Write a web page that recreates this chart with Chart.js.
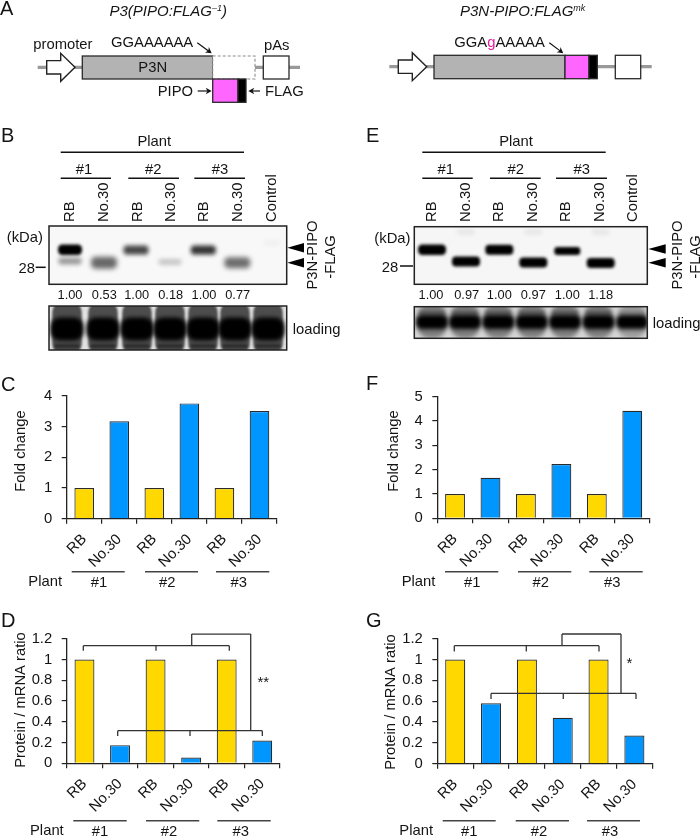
<!DOCTYPE html>
<html><head><meta charset="utf-8">
<script src="https://cdn.jsdelivr.net/npm/chart.js@4/dist/chart.umd.min.js"></script>
<style>
html,body{margin:0;padding:0;background:#fff;width:700px;height:837px;overflow:hidden}
canvas{position:absolute}
</style></head><body>
<canvas id="page" width="700" height="837" style="left:0;top:0"></canvas>
<canvas id="chartC" width="350" height="230" style="left:0;top:370px"></canvas>
<canvas id="chartF" width="350" height="230" style="left:350px;top:370px"></canvas>
<canvas id="chartD" width="350" height="237" style="left:0;top:600px"></canvas>
<canvas id="chartG" width="350" height="237" style="left:350px;top:600px"></canvas>
<script>
// ---------- data ----------
const categories = ['RB','No.30','RB','No.30','RB','No.30'];
const foldChangeC = [1,3.17,1,3.75,1,3.5];
const foldChangeF = [1,1.67,1,2.23,1,4.42];
const ratioD = [1,0.175,1,0.055,1,0.22];
const ratioG = [1,0.58,1,0.44,1,0.27];
const ticksC = ['0','1','2','3','4'];
const ticksF = ['0','1','2','3','4','5'];
const ticksRatio = ['0','0.2','0.4','0.6','0.8','1','1.2'];
const plants = ['#1','#2','#3'];
const blotLanes = ['RB','No.30','RB','No.30','RB','No.30','Control'];
const densityB = ['1.00','0.53','1.00','0.18','1.00','0.77'];
const densityE = ['1.00','0.97','1.00','0.97','1.00','1.18'];

const FONT = '"Liberation Sans", Arial, sans-serif';
const SIZE = 14.8, INK = '#141414', YELLOW = '#ffd800', BLUE = '#0096ff';
const barColors = categories.map(c => c === 'RB' ? YELLOW : BLUE);

// ---------- page drawing helpers ----------
function T(c, s, x, y, o = {}) {
  c.save();
  c.font = `${o.style || ''} ${o.size || SIZE}px ${FONT}`;
  c.fillStyle = o.color || INK;
  c.textAlign = o.align || 'left';
  c.textBaseline = 'middle';
  c.translate(x, y);
  if (o.rot) c.rotate(o.rot);
  c.fillText(s, 0, 0);
  c.restore();
}
function L(c, x1, y1, x2, y2, w = 1.4, col = '#222') {
  c.save(); c.strokeStyle = col; c.lineWidth = w; c.beginPath(); c.moveTo(x1, y1); c.lineTo(x2, y2); c.stroke(); c.restore();
}
function box(c, x1, y1, x2, y2, fill, stroke = '#2a2a2a', w = 1.3, dash) {
  c.save();
  if (fill) { c.fillStyle = fill; c.fillRect(x1, y1, x2 - x1, y2 - y1); }
  if (stroke) { c.strokeStyle = stroke; c.lineWidth = w; if (dash) c.setLineDash(dash); c.strokeRect(x1, y1, x2 - x1, y2 - y1); }
  c.restore();
}
function arrow(c, x1, y1, x2, y2, size = 6) {
  const a = Math.atan2(y2 - y1, x2 - x1);
  L(c, x1, y1, x2 - Math.cos(a) * size * .6, y2 - Math.sin(a) * size * .6, 1.2, '#111');
  c.save(); c.fillStyle = '#111'; c.translate(x2, y2); c.rotate(a);
  c.beginPath(); c.moveTo(0, 0); c.lineTo(-size, -size * .55); c.lineTo(-size * .7, 0); c.lineTo(-size, size * .55); c.closePath(); c.fill();
  c.restore();
}
function blockArrow(c, x1, xn, xt, yc) {
  c.save(); c.fillStyle = '#fff'; c.strokeStyle = '#222'; c.lineWidth = 1.4; c.beginPath();
  c.moveTo(x1, yc - 6.7); c.lineTo(xn, yc - 6.7); c.lineTo(xn, yc - 14); c.lineTo(xt, yc); c.lineTo(xn, yc + 14);
  c.lineTo(xn, yc + 6.7); c.lineTo(x1, yc + 6.7); c.closePath(); c.fill(); c.stroke(); c.restore();
}
function tri(c, tip, base, y) {
  c.save(); c.fillStyle = '#000'; c.beginPath(); c.moveTo(tip, y); c.lineTo(base, y - 4.8); c.lineTo(base, y + 4.8); c.closePath(); c.fill(); c.restore();
}
function band(c, cx, cy, w, h, alpha, blur = 2) {
  c.save(); c.filter = `blur(${blur}px)`; c.fillStyle = `rgba(0,0,0,${alpha})`;
  c.beginPath(); c.roundRect(cx - w / 2, cy - h / 2, w, h, Math.min(w, h) / 2.5); c.fill(); c.restore();
}
function clipped(c, x1, y1, x2, y2, f) {
  c.save(); c.beginPath(); c.rect(x1, y1, x2 - x1, y2 - y1); c.clip(); f(); c.restore();
}

function drawSchematics(c) {
  // left construct
  T(c, 'A', 0, 9, { size: 20 });
  c.save(); c.font = `italic 15px ${FONT}`; c.fillStyle = INK; c.textBaseline = 'middle';
  let x = 109.5; c.fillText('P3(PIPO:FLAG', x, 12); x += c.measureText('P3(PIPO:FLAG').width;
  c.font = `italic 9px ${FONT}`; c.fillText('–1', x, 8); x += c.measureText('–1').width;
  c.font = `italic 15px ${FONT}`; c.fillText(')', x, 12);
  x = 460; c.fillText('P3N-PIPO:FLAG', x, 12); x += c.measureText('P3N-PIPO:FLAG').width;
  c.font = `italic 9px ${FONT}`; c.fillText('mk', x, 8); c.restore();

  L(c, 37.7, 67.3, 300, 67.3, 3.2, '#999');
  blockArrow(c, 46.7, 60.7, 75, 67.3);
  box(c, 82.3, 56, 212.7, 79, '#b3b3b3');
  box(c, 212.7, 56, 255, 79, '#fff', '#8c8c8c', 1.1, [3, 2]);
  box(c, 263.3, 56, 289, 79, '#fff');
  box(c, 212.7, 79, 238, 102.3, '#ff66ff');
  box(c, 238, 79, 246, 102.3, '#000');
  T(c, 'promoter', 33.3, 45); T(c, 'GGAAAAAA', 111, 42.7); T(c, 'pAs', 276.7, 45.7, { align: 'center' });
  T(c, 'P3N', 152.7, 67.7, { align: 'center' }); T(c, 'PIPO', 157.7, 91.7); T(c, 'FLAG', 265, 91.7);
  arrow(c, 197.3, 42.7, 211.7, 53.3);
  arrow(c, 197.7, 91, 211.7, 91); arrow(c, 260, 91, 248.3, 91);

  // right construct
  L(c, 389.3, 66.7, 651.7, 66.7, 3.2, '#999');
  blockArrow(c, 398.3, 412.3, 426.7, 66.7);
  box(c, 434, 55.3, 565, 78.7, '#b3b3b3');
  box(c, 565, 55.3, 589, 78.7, '#ff66ff');
  box(c, 589, 55.3, 597.3, 78.7, '#000');
  box(c, 615.3, 55.3, 640.7, 78.7, '#fff');
  c.save(); c.font = `${SIZE}px ${FONT}`; c.textBaseline = 'middle';
  const parts = [['GGA', INK], ['g', '#e0209f'], ['AAAAA', INK]]; x = 454.3;
  parts.forEach(([s, col]) => { c.fillStyle = col; c.fillText(s, x, 42.7); x += c.measureText(s).width; });
  c.restore();
  arrow(c, 549.3, 42.7, 563.3, 53.3);
}

function blotLabels(c, o) {
  T(c, 'Plant', o.plantX, 141.7, { align: 'center' });
  L(c, o.topLine[0], 152.3, o.topLine[1], 152.3, 1.5, '#111');
  plants.forEach((p, i) => {
    T(c, p, o.groupX[i], 170, { align: 'center' });
    L(c, o.groupLine[i][0], 178.3, o.groupLine[i][1], 178.3, 1.5, '#111');
  });
  blotLanes.forEach((s, i) => T(c, s, o.labelX[i] + 1, 222, { rot: -Math.PI / 2 }));
  T(c, '(kDa)', o.kda, o.kdaY);
  T(c, '28', o.m28, o.m28Y, { align: 'right' });
  L(c, o.mTick[0], o.mTickY, o.mTick[1], o.mTickY, 1.5, '#111');
  o.density.forEach((s, i) => T(c, s, o.densX[i], 295, { align: 'center', size: 12.8 }));
  T(c, 'P3N-PIPO', o.pX, 255, { align: 'center', rot: -Math.PI / 2 });
  T(c, '-FLAG', o.pX + 18, 257, { align: 'center', rot: -Math.PI / 2 });
  tri(c, o.tri[0], o.tri[1], o.triY[0]); tri(c, o.tri[0], o.tri[1], o.triY[1]);
  T(c, 'loading', o.loadX, o.loadY);
}

function drawBlots(c) {
  T(c, 'B', 1, 136, { size: 20 });
  T(c, 'E', 366, 136.7, { size: 20 });
  const lanesB = [70, 104, 136, 170, 203.3, 237.3, 271.7];
  const loadLanesB = [67, 103, 137, 170, 203, 235, 268];
  const lanesE = [432, 466, 499.3, 533.3, 567.3, 600.7, 633];
  const loadLanesE = [432, 465, 498.3, 531.7, 565, 598.5, 632];

  // gel B
  box(c, 49, 226, 286.7, 284.3, '#f8f8f8', null);
  clipped(c, 49, 226, 286.7, 284.3, () => {
    band(c, lanesB[0], 261, 23, 7, .38, 2.2);
    band(c, lanesB[0], 249.7, 24, 10.5, 1, 1.8);
    band(c, lanesB[1], 262.7, 26, 12, .58, 2.4);
    band(c, lanesB[2], 250, 25, 9, .72, 2);
    band(c, lanesB[3], 262, 23, 6, .2, 2.2);
    band(c, lanesB[4], 250, 25, 9, .8, 2);
    band(c, lanesB[5], 262.7, 26, 11, .56, 2.4);
    band(c, lanesB[6], 243, 16, 5, .04, 2);
  });
  box(c, 49, 226, 286.7, 284.3, null, '#222', 1.5);
  // loading B
  box(c, 49, 306, 286.7, 350, '#e2e2e2', null);
  clipped(c, 49, 306, 286.7, 350, () => {
    loadLanesB.forEach(x => {
      band(c, x, 328, 29.5, 54, .66, 1);
      band(c, x, 329, 33, 23, 1, 2.2);
      band(c, x, 346, 25, 4, .4, 1);
    });
  });
  box(c, 49, 306, 286.7, 350, null, '#222', 1.5);

  // gel E
  box(c, 414.3, 226.7, 647.3, 284.3, '#f6f6f6', null);
  clipped(c, 414.3, 226.7, 647.3, 284.3, () => {
    [1, 3, 5].forEach(i => band(c, lanesE[i], 232, 18, 5, .07, 2));
    band(c, lanesE[0], 249.7, 28, 10.5, 1, 1.8);
    band(c, lanesE[1], 261.5, 28, 10, 1, 1.8);
    band(c, lanesE[2], 249.7, 28, 10, 1, 1.8);
    band(c, lanesE[3], 262.5, 28, 10, 1, 1.8);
    band(c, lanesE[4], 251, 26, 8, 1, 1.6);
    band(c, lanesE[5], 263, 28, 10, 1, 1.8);
  });
  box(c, 414.3, 226.7, 647.3, 284.3, null, '#222', 1.5);
  // loading E
  box(c, 414.3, 306.7, 647.3, 338.3, '#d6d6d6', null);
  clipped(c, 414.3, 306.7, 647.3, 338.3, () => {
    loadLanesE.forEach((x, i) => {
      band(c, x, 321, 29, 34, i === 6 ? .28 : .42, 2);
      band(c, x, 313, 26, 5, i === 6 ? .1 : .22, 1.5);
      band(c, x, 322, 32, 14, 1, 2.2);
    });
  });
  box(c, 414.3, 306.7, 647.3, 338.3, null, '#222', 1.5);

  blotLabels(c, { plantX: 154.3, topLine: [60.7, 244], groupX: [84, 153.3, 220],
    groupLine: [[60.7, 111], [128.3, 179], [194.3, 245]],
    labelX: [69.3, 103.3, 136.7, 170, 203.3, 237.3, 270.7],
    kda: 6.7, kdaY: 238.3, m28: 35, m28Y: 269, mTick: [35.7, 45.7], mTickY: 267.3,
    density: densityB, densX: [70, 104.3, 136.7, 170.7, 204, 237.7],
    pX: 313.3, tri: [287.3, 304], triY: [247.7, 262.7], loadX: 292.7, loadY: 330 });
  blotLabels(c, { plantX: 516, topLine: [422.3, 605.7], groupX: [445.7, 515.7, 581.7],
    groupLine: [[422.3, 472.7], [490, 540.7], [556, 607]],
    labelX: [431, 465, 498.3, 531.7, 565, 599, 631.7],
    kda: 374.3, kdaY: 239.3, m28: 398.3, m28Y: 268.3, mTick: [400, 413], mTickY: 266,
    density: densityE, densX: [431, 466.7, 499.3, 533.3, 567.3, 600.7],
    pX: 677.7, tri: [648.3, 665.7], triY: [249, 262.7], loadX: 652.7, loadY: 324.3 });
}

function groupRow(c, o) {
  T(c, 'Plant', o.plantX, o.plantY);
  plants.forEach((p, i) => {
    L(c, o.lines[i][0], o.lineY, o.lines[i][1], o.lineY, 1.4, '#444');
    T(c, p, o.labelX[i], o.labelY, { align: 'center' });
  });
}
function drawChartLabels(c) {
  T(c, 'C', 1, 385, { size: 20 }); T(c, 'F', 366, 384, { size: 20 });
  T(c, 'D', 1, 621, { size: 20 }); T(c, 'G', 366, 621, { size: 20 });
  T(c, 'Fold change', 20.7, 451, { align: 'center', rot: -Math.PI / 2 });
  T(c, 'Fold change', 394.3, 451, { align: 'center', rot: -Math.PI / 2 });
  T(c, 'Protein / mRNA ratio', 20.7, 700, { align: 'center', rot: -Math.PI / 2 });
  T(c, 'Protein / mRNA ratio', 390.7, 702, { align: 'center', rot: -Math.PI / 2 });
  groupRow(c, { plantX: 28.3, plantY: 581.7, lineY: 571.7, labelY: 583.3, lines: [[71.7, 124.7], [145, 198], [216, 269.3]], labelX: [99, 167.3, 238.7] });
  groupRow(c, { plantX: 401.7, plantY: 581.7, lineY: 571.7, labelY: 583.3, lines: [[445, 498.3], [518, 571.3], [589.3, 642.7]], labelX: [472.3, 540.7, 612.3] });
  groupRow(c, { plantX: 30, plantY: 830.7, lineY: 820.7, labelY: 832.3, lines: [[73.3, 126.7], [146, 199.3], [217.3, 270.7]], labelX: [100, 169, 240.7] });
  groupRow(c, { plantX: 399.3, plantY: 830.7, lineY: 820.7, labelY: 832.3, lines: [[442.7, 495.7], [515.7, 569], [587, 640]], labelX: [469.3, 539, 610] });
}

// full-page chart that carries the schematics, blots and shared labels
new Chart(document.getElementById('page'), {
  type: 'bar',
  data: { labels: [], datasets: [] },
  options: {
    responsive: false, animation: false, devicePixelRatio: 1,
    plugins: { legend: { display: false }, tooltip: { enabled: false } },
    scales: { x: { display: false }, y: { display: false } }
  },
  plugins: [{ id: 'pageArt', afterDraw(ch) { const c = ch.ctx; drawSchematics(c); drawBlots(c); drawChartLabels(c); } }]
});

// significance brackets: y in data units through the chart's scale
function bracketPlugin(b) {
  return { id: 'brackets', afterDatasetsDraw(ch) {
    const c = ch.ctx, y = ch.scales.y, ox = b.ox;
    const yU = y.getPixelForValue(b.upper), yL = y.getPixelForValue(b.lower), yT = y.getPixelForValue(b.top);
    const dU = y.getPixelForValue(b.upper - b.drop), dL = y.getPixelForValue(b.lower - b.drop);
    const pen = (a, d, e, f) => L(c, a - ox, d, e - ox, f, 1.3, '#333');
    pen(b.up[0], yU, b.up[2], yU); b.up.forEach(x => pen(x, yU, x, dU));
    pen(b.low[0], yL, b.low[2], yL); b.low.forEach(x => pen(x, yL, x, dL));
    pen(b.riseL, yU, b.riseL, yT); pen(b.riseL, yT, b.riseR, yT); pen(b.riseR, yT, b.riseR, yL);
    T(c, b.mark, b.markX - ox, y.getPixelForValue(b.markY), { align: 'center', size: 15 });
  } };
}

function panel(id, rect, area, values, tickLabels, max, step, extra) {
  return new Chart(document.getElementById(id), {
    type: 'bar',
    data: { labels: categories, datasets: [{ data: values, backgroundColor: barColors, borderColor: '#2b2b2b', borderWidth: 1.2, barPercentage: .56, categoryPercentage: 1 }] },
    options: {
      responsive: false, animation: false, devicePixelRatio: 1,
      layout: { autoPadding: false, padding: { left: 0, top: area.top, right: rect.w - area.right, bottom: 0 } },
      plugins: { legend: { display: false }, tooltip: { enabled: false } },
      scales: {
        x: {
          afterFit(s) { s.height = rect.h - area.bottom; },
          border: { color: '#222', width: 1.3 },
          grid: { drawOnChartArea: false, drawTicks: true, tickLength: 5, color: '#222', lineWidth: 1.2 },
          ticks: { autoSkip: false, maxRotation: 45, minRotation: 45, padding: 7, color: INK, font: { family: FONT, size: SIZE } }
        },
        y: {
          min: 0, max, afterFit(s) { s.width = area.left; },
          border: { color: '#222', width: 1.3 },
          grid: { drawOnChartArea: false, drawTicks: true, tickLength: 5, color: '#222', lineWidth: 1.2 },
          ticks: { stepSize: step, autoSkip: false, padding: 9.5, color: INK, font: { family: FONT, size: SIZE }, callback: (v, i) => tickLabels[i] }
        }
      }
    },
    plugins: extra ? [extra] : []
  });
}

panel('chartC', { w: 350, h: 230 }, { left: 66.7, right: 277, top: 25.7, bottom: 148.7 }, foldChangeC, ticksC, 4, 1);
panel('chartF', { w: 350, h: 230 }, { left: 87.3, right: 300, top: 26.7, bottom: 148.3 }, foldChangeF, ticksF, 5, 1);
panel('chartD', { w: 350, h: 237 }, { left: 66.7, right: 280, top: 38.7, bottom: 163.3 }, ratioD, ticksRatio, 1.2, .2,
  bracketPlugin({ ox: 0, upper: 1.133, lower: .314, top: 1.245, drop: .05, up: [83.3, 156, 229.3], low: [117.7, 190, 262.3], riseL: 191.7, riseR: 250.7, mark: '**', markX: 263.3, markY: .77 }));
panel('chartG', { w: 350, h: 237 }, { left: 87.3, right: 302.3, top: 38.7, bottom: 163.7 }, ratioG, ticksRatio, 1.2, .2,
  bracketPlugin({ ox: 350, upper: 1.133, lower: .675, top: 1.245, drop: .055, up: [454.3, 526.3, 599], low: [491, 563.3, 636], riseL: 562, riseR: 621, mark: '*', markX: 629.3, markY: .96 }));
</script>
</body></html>
